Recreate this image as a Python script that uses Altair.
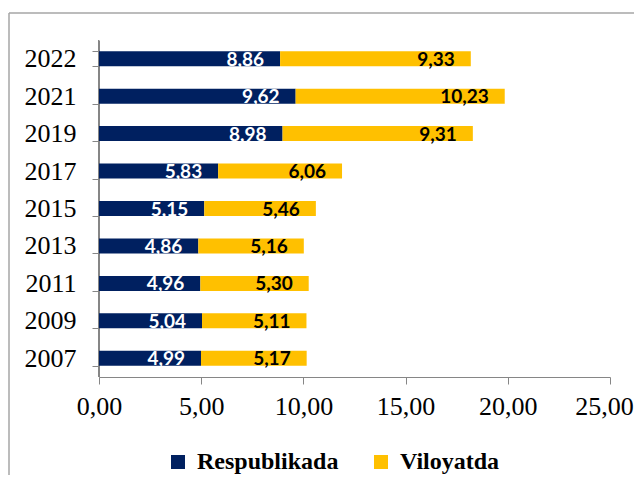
import altair as alt
import pandas as pd

years = ["2022", "2021", "2019", "2017", "2015", "2013", "2011", "2009", "2007"]
respublikada = [8.86, 9.62, 8.98, 5.83, 5.15, 4.86, 4.96, 5.04, 4.99]
viloyatda = [9.33, 10.23, 9.31, 6.06, 5.46, 5.16, 5.30, 5.11, 5.17]
series = ["Respublikada", "Viloyatda"]
colors = ["#002060", "#FFC000"]
text_colors = ["#FFFFFF", "#000000"]
x_ticks = [0, 5, 10, 15, 20, 25]

rows = []
for i, y in enumerate(years):
    for k, (s, vals) in enumerate(zip(series, [respublikada, viloyatda])):
        rows.append({
            "year": y,
            "series": s,
            "order": k,
            "value": vals[i],
            "label": f"{vals[i]:.2f}".replace(".", ","),
            "tcolor": text_colors[k],
        })
df = pd.DataFrame(rows)

base = alt.Chart(df).transform_stack(
    stack="value", groupby=["year"], as_=["v0", "v1"],
    sort=[alt.SortField("order", order="ascending")]
)

yenc = alt.Y("year:N", sort=years, title=None,
             scale=alt.Scale(paddingInner=0.6, paddingOuter=0.3),
             axis=alt.Axis(labelFont="Liberation Serif", labelFontSize=26,
                           labelColor="#000000", labelPadding=16,
                           tickSize=7, tickBand="extent",
                           domain=True, domainColor="#868686", domainWidth=1,
                           tickColor="#868686"))

xscale = alt.Scale(domain=[0, 25], nice=False)

bars = base.mark_bar().encode(
    y=yenc,
    x=alt.X("v0:Q", scale=xscale, title=None,
            axis=alt.Axis(values=x_ticks, grid=False, labelFlush=False,
                          labelExpr="replace(format(datum.value, '.2f'), '.', ',')",
                          labelFont="Liberation Serif", labelFontSize=26,
                          labelOffset={"condition": {"test": "datum.value == 25", "value": -6}, "value": 0},
                          labelColor="#000000", labelPadding=9, tickSize=7,
                          domainColor="#868686", tickColor="#868686")),
    x2="v1:Q",
    color=alt.Color("series:N",
                    scale=alt.Scale(domain=series, range=colors),
                    legend=alt.Legend(orient="none", legendX=67, legendY=410,
                                      direction="horizontal", title=None,
                                      labelFont="Liberation Serif",
                                      labelFontWeight="bold", labelFontSize=24,
                                      labelColor="#000000", labelLimit=300,
                                      symbolType="square", symbolSize=196,
                                      symbolStrokeWidth=0, columnPadding=30,
                                      labelOffset=7)),
)

labels = base.mark_text(align="right", baseline="middle", dx=-16, dy=1,
                        font="Lato", fontWeight="bold", fontSize=19).encode(
    y=alt.Y("year:N", sort=years),
    x=alt.X("v1:Q", scale=xscale),
    text="label:N",
    color=alt.Color("tcolor:N", scale=None),
)

line_data = alt.Data(values=[{"a": 1}])
y_axis_line = alt.Chart(line_data).mark_rule(color="#868686", strokeWidth=1).encode(
    x=alt.value(-0.5), y=alt.value(0), y2=alt.value(337))
left_border = alt.Chart(line_data).mark_rule(color="#A6A6A6", strokeWidth=1.5).encode(
    x=alt.value(-90), y=alt.value(-27), y2=alt.value(470))
top_border = alt.Chart(line_data).mark_rule(color="#A6A6A6", strokeWidth=1.5).encode(
    x=alt.value(-90), x2=alt.value(620), y=alt.value(-27))

chart = alt.layer(bars, labels, y_axis_line, left_border, top_border).properties(
    width=511, height=337,
    autosize=alt.AutoSizeParams(type="none"),
    padding={"left": 91, "top": 32, "right": 24, "bottom": 98},
).configure_view(stroke=None)

chart.save("out.html", embed_options={"renderer": "svg", "actions": False})
